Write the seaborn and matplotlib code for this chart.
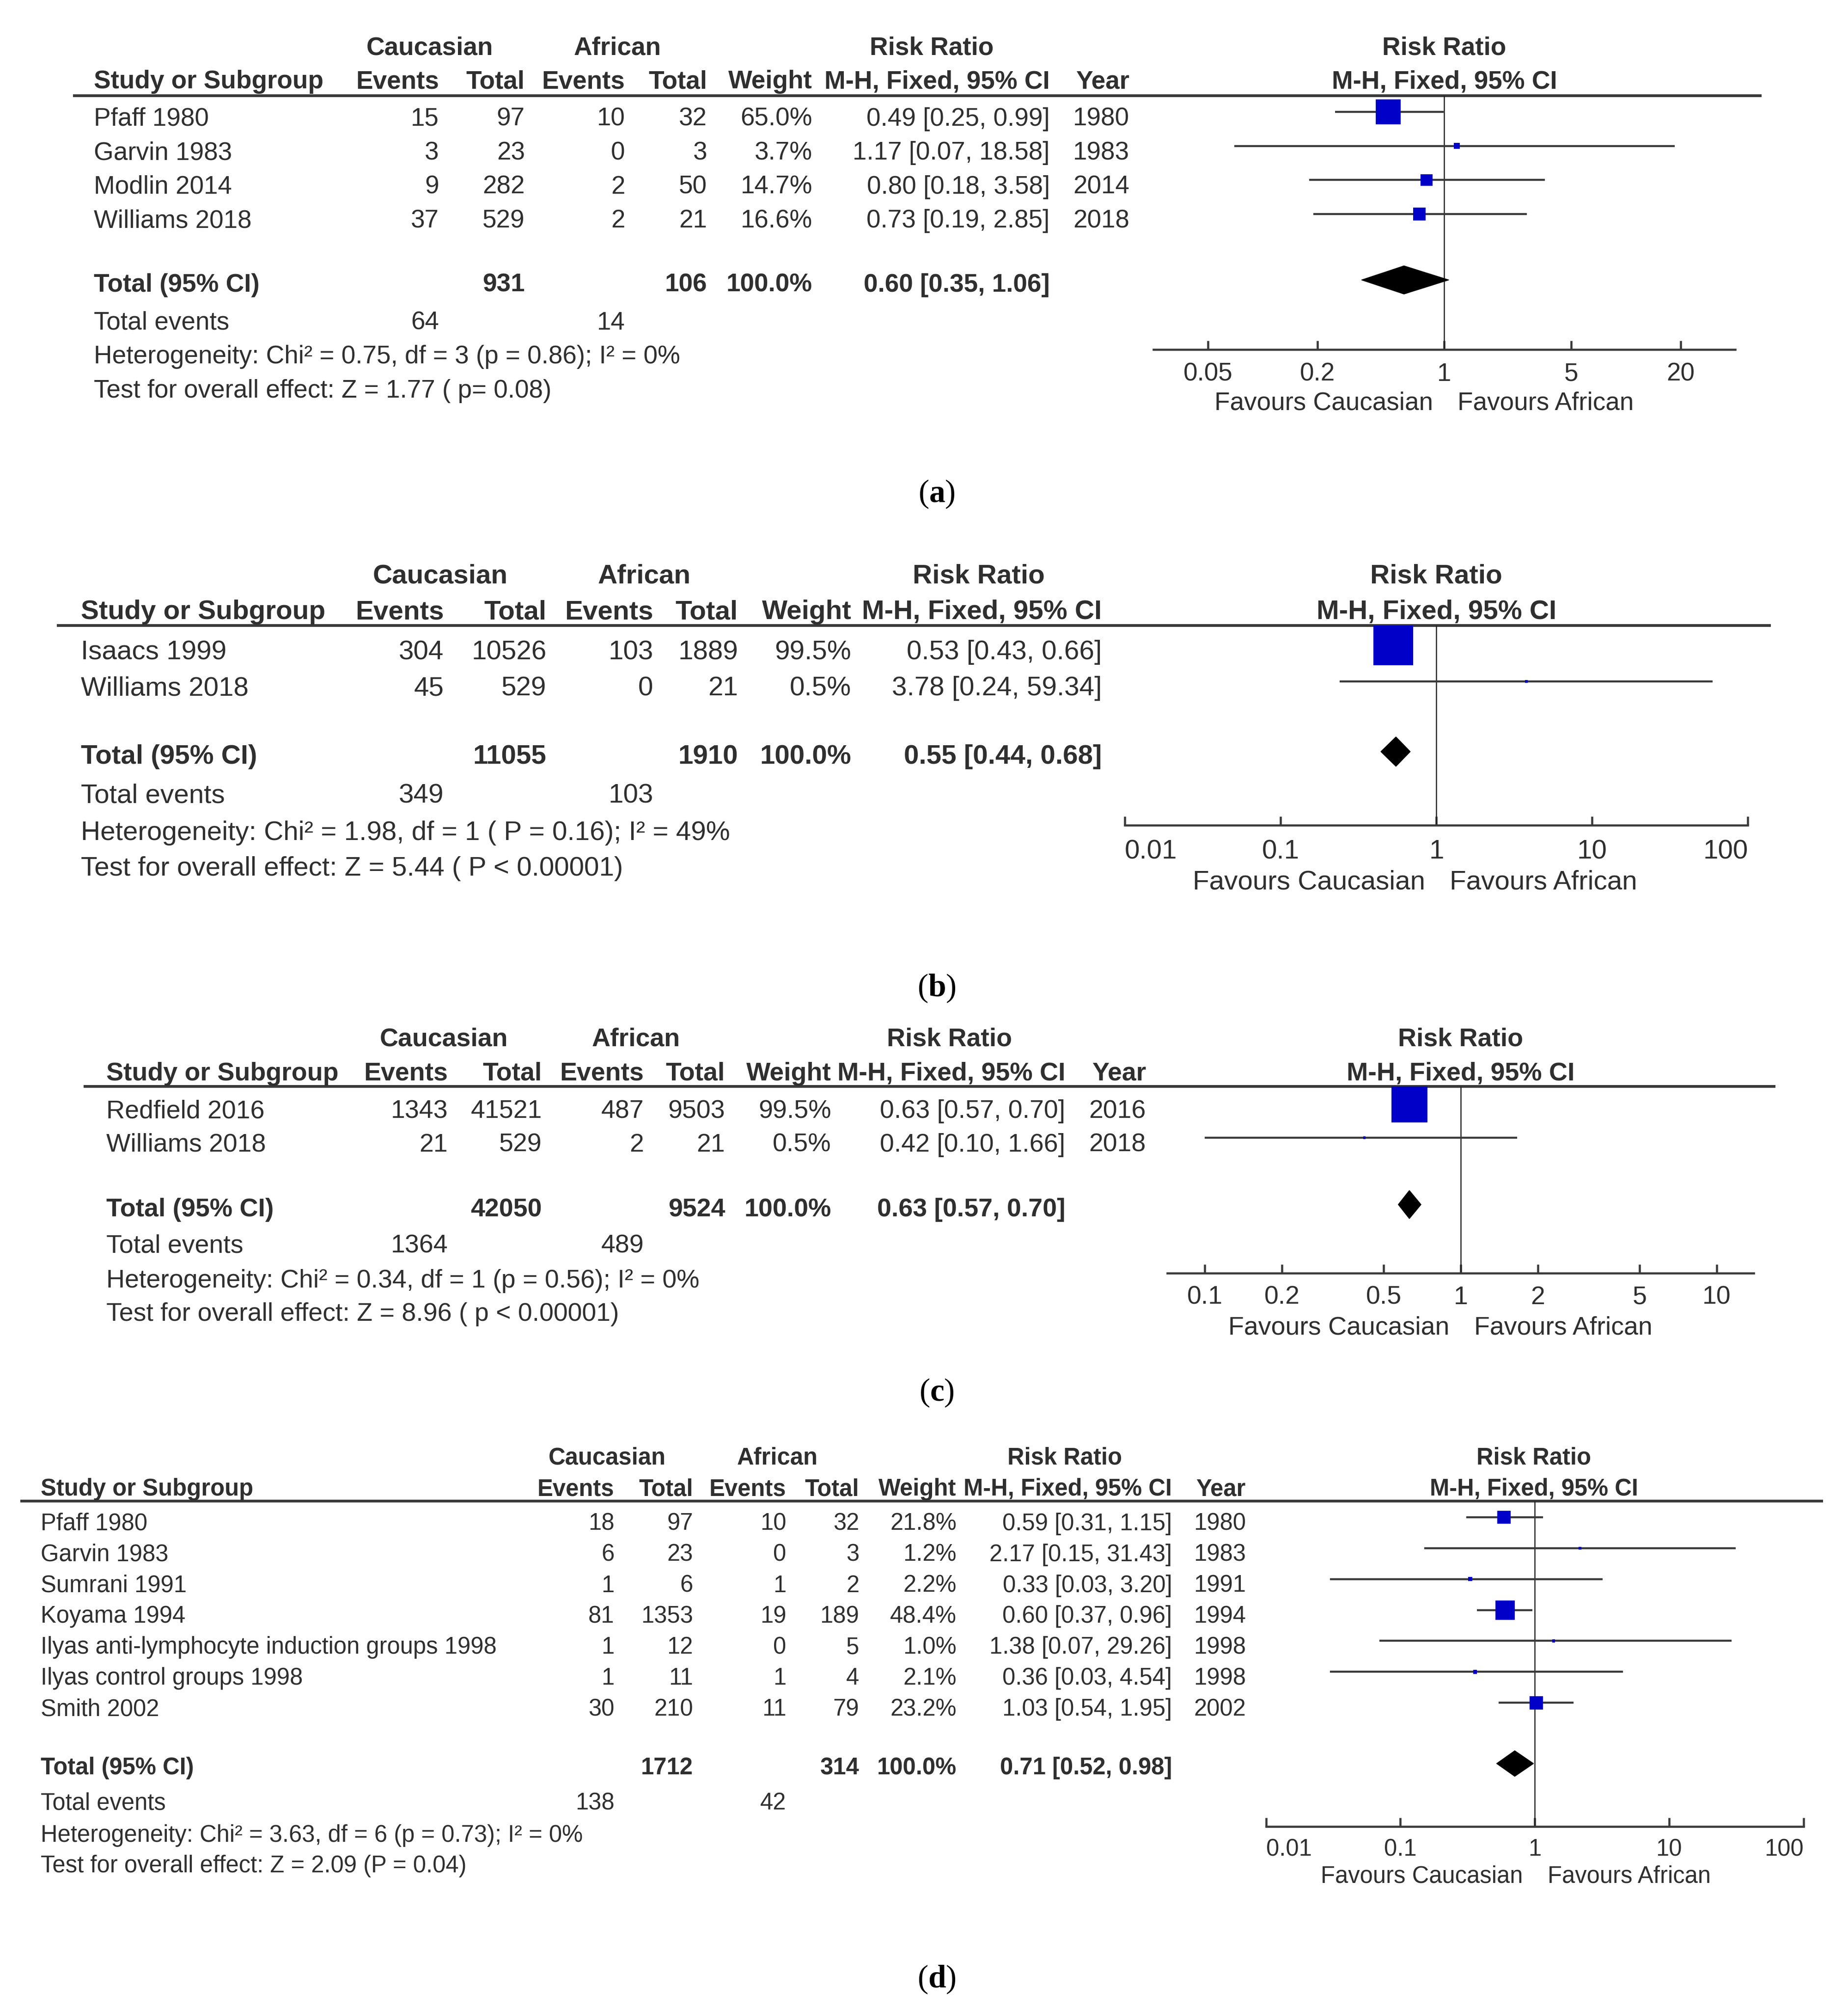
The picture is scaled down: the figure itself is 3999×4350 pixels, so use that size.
import numpy as np
import pandas as pd
import matplotlib
matplotlib.use("Agg")
import matplotlib.pyplot as plt
import seaborn as sns
from matplotlib.ticker import FixedLocator, FixedFormatter, NullLocator

# ---------------- data ----------------
# (a)
a_study = ["Pfaff 1980", "Garvin 1983", "Modlin 2014", "Williams 2018"]
a_cauc_events = [15, 3, 9, 37]
a_cauc_total = [97, 23, 282, 529]
a_afr_events = [10, 0, 2, 2]
a_afr_total = [32, 3, 50, 21]
a_weight = [65.0, 3.7, 14.7, 16.6]
a_rr = [0.49, 1.17, 0.80, 0.73]
a_lo = [0.25, 0.07, 0.18, 0.19]
a_hi = [0.99, 18.58, 3.58, 2.85]
a_year = [1980, 1983, 2014, 2018]
a_total_n = [931, 106]
a_total_rr = [0.60, 0.35, 1.06]
a_total_events = [64, 14]
a_het = "Heterogeneity: Chi² = 0.75, df = 3 (p = 0.86); I² = 0%"
a_test = "Test for overall effect: Z = 1.77 ( p= 0.08)"
a_ticks = [0.05, 0.2, 1, 5, 20]
a_tick_labels = ["0.05", "0.2", "1", "5", "20"]

# (b)
b_study = ["Isaacs 1999", "Williams 2018"]
b_cauc_events = [304, 45]
b_cauc_total = [10526, 529]
b_afr_events = [103, 0]
b_afr_total = [1889, 21]
b_weight = [99.5, 0.5]
b_rr = [0.53, 3.78]
b_lo = [0.43, 0.24]
b_hi = [0.66, 59.34]
b_year = None
b_total_n = [11055, 1910]
b_total_rr = [0.55, 0.44, 0.68]
b_total_events = [349, 103]
b_het = "Heterogeneity: Chi² = 1.98, df = 1 ( P = 0.16); I² = 49%"
b_test = "Test for overall effect: Z = 5.44 ( P < 0.00001)"
b_ticks = [0.01, 0.1, 1, 10, 100]
b_tick_labels = ["0.01", "0.1", "1", "10", "100"]

# (c)
c_study = ["Redfield 2016", "Williams 2018"]
c_cauc_events = [1343, 21]
c_cauc_total = [41521, 529]
c_afr_events = [487, 2]
c_afr_total = [9503, 21]
c_weight = [99.5, 0.5]
c_rr = [0.63, 0.42]
c_lo = [0.57, 0.10]
c_hi = [0.70, 1.66]
c_year = [2016, 2018]
c_total_n = [42050, 9524]
c_total_rr = [0.63, 0.57, 0.70]
c_total_events = [1364, 489]
c_het = "Heterogeneity: Chi² = 0.34, df = 1 (p = 0.56); I² = 0%"
c_test = "Test for overall effect: Z = 8.96 ( p < 0.00001)"
c_ticks = [0.1, 0.2, 0.5, 1, 2, 5, 10]
c_tick_labels = ["0.1", "0.2", "0.5", "1", "2", "5", "10"]

# (d)
d_study = ["Pfaff 1980", "Garvin 1983", "Sumrani 1991", "Koyama 1994",
           "Ilyas anti-lymphocyte induction groups 1998", "Ilyas control groups 1998",
           "Smith 2002"]
d_cauc_events = [18, 6, 1, 81, 1, 1, 30]
d_cauc_total = [97, 23, 6, 1353, 12, 11, 210]
d_afr_events = [10, 0, 1, 19, 0, 1, 11]
d_afr_total = [32, 3, 2, 189, 5, 4, 79]
d_weight = [21.8, 1.2, 2.2, 48.4, 1.0, 2.1, 23.2]
d_rr = [0.59, 2.17, 0.33, 0.60, 1.38, 0.36, 1.03]
d_lo = [0.31, 0.15, 0.03, 0.37, 0.07, 0.03, 0.54]
d_hi = [1.15, 31.43, 3.20, 0.96, 29.26, 4.54, 1.95]
d_year = [1980, 1983, 1991, 1994, 1998, 1998, 2002]
d_total_n = [1712, 314]
d_total_rr = [0.71, 0.52, 0.98]
d_total_events = [138, 42]
d_het = "Heterogeneity: Chi² = 3.63, df = 6 (p = 0.73); I² = 0%"
d_test = "Test for overall effect: Z = 2.09 (P = 0.04)"
d_ticks = [0.01, 0.1, 1, 10, 100]
d_tick_labels = ["0.01", "0.1", "1", "10", "100"]

panel_letters = ["a", "b", "c", "d"]
fav_left = "Favours Caucasian"
fav_right = "Favours African"

# ---------------- layout (units: 1440 x 1566 page grid, 1 unit = 2 pt) ----------------
LAYOUT = {
    "a": dict(fs=39.5, name_x=73, cols=[342, 409, 487, 551, 633, 818], year_r=880,
              grp=[335, 481, 726], y_h1=35.5, y_h2=61.8, line_y=74.5, line_x=(57, 1372.7),
              row0=90.7, pitch=26.5, y_total=220, y_tev=249.5, y_het=276, y_test=302.5,
              axis_y=272.3, xlim=(0.025, 40), fx=(898.7, 1352.1), fc=1125.4, sq_k=6.7,
              dhalf=11, tick_dist=17, fav_y=312, label_y=384.7),
    "b": dict(fs=42, name_x=63, cols=[345.8, 425.8, 509, 575, 663.4, 858.6], year_r=None,
              grp=[343, 502, 762.6], y_h1=446.7, y_h2=474.6, line_y=487, line_x=(44.3, 1380),
              row0=506, pitch=28, y_total=587.3, y_tev=617.8, y_het=646.6, y_test=674.5,
              axis_y=642.6, xlim=(0.01, 100), fx=(876.5, 1362), fc=1119.25, sq_k=8.6,
              dhalf=11.5, tick_dist=18.4, fav_y=685, label_y=769.7),
    "c": dict(fs=40, name_x=82.7, cols=[349, 422.3, 501.7, 565, 647.8, 830.2], year_r=893,
              grp=[346, 495.7, 739.7], y_h1=807.5, y_h2=834, line_y=846, line_x=(65, 1383.6),
              row0=863.5, pitch=26, y_total=940, y_tev=968.3, y_het=995.6, y_test=1021.3,
              axis_y=991.5, xlim=(1 / 14, 14), fx=(909.7, 1366.7), fc=1138.2, sq_k=7.8,
              dhalf=11, tick_dist=16.8, fav_y=1032, label_y=1084.7),
    "d": dict(fs=36.5, name_x=31.6, cols=[478.7, 540, 612.7, 669.5, 745.3, 913.3], year_r=970.8,
              grp=[473, 605.7, 829.6], y_h1=1133.6, y_h2=1158.2, line_y=1168.8, line_x=(15.8, 1420.6),
              row0=1185, pitch=24.08, y_total=1375.3, y_tev=1402.6, y_het=1427.6, y_test=1451.5,
              axis_y=1422.4, xlim=(0.01, 100), fx=(986.5, 1405.3), fc=1195.3, sq_k=6.04,
              dhalf=10, tick_dist=15.6, fav_y=1459.5, label_y=1541.7),
}
W_U, H_U = 1440.0, 1566.0
MARK_DY = -3.5
TEXT = "#2f2f2f"
LINE = "#3a3a3a"
BLUE = "#0000c8"

sns.set_theme(style="white")
plt.rcParams["font.family"] = ["Liberation Sans", "DejaVu Sans"]
plt.rcParams["mathtext.fontset"] = "custom"
plt.rcParams["mathtext.rm"] = "Liberation Serif"
plt.rcParams["mathtext.bf"] = "Liberation Serif:bold"

fig = plt.figure(figsize=(39.99, 43.5), dpi=100)
fig.patch.set_facecolor("white")
bg = fig.add_axes([0, 0, 1, 1])
bg.set_xlim(0, W_U)
bg.set_ylim(H_U, 0)
bg.axis("off")

panels = {
    "a": (a_study, a_cauc_events, a_cauc_total, a_afr_events, a_afr_total, a_weight, a_rr, a_lo, a_hi,
          a_year, a_total_n, a_total_rr, a_total_events, a_het, a_test, a_ticks, a_tick_labels),
    "b": (b_study, b_cauc_events, b_cauc_total, b_afr_events, b_afr_total, b_weight, b_rr, b_lo, b_hi,
          b_year, b_total_n, b_total_rr, b_total_events, b_het, b_test, b_ticks, b_tick_labels),
    "c": (c_study, c_cauc_events, c_cauc_total, c_afr_events, c_afr_total, c_weight, c_rr, c_lo, c_hi,
          c_year, c_total_n, c_total_rr, c_total_events, c_het, c_test, c_ticks, c_tick_labels),
    "d": (d_study, d_cauc_events, d_cauc_total, d_afr_events, d_afr_total, d_weight, d_rr, d_lo, d_hi,
          d_year, d_total_n, d_total_rr, d_total_events, d_het, d_test, d_ticks, d_tick_labels),
}


def put(x, yc, s, fs, ha="left", bold=False, color=TEXT):
    em = fs / 2.0
    bg.text(x, yc + 0.358 * em, s, ha=ha, va="baseline", fontsize=fs,
            fontweight="bold" if bold else "normal", color=color)


def fmt_ci(r, l, h):
    return f"{r:.2f} [{l:.2f}, {h:.2f}]"


for key in panel_letters:
    (study, ce, ct, ae, at, wt, rr, lo, hi, year, tot_n, tot_rr, tot_ev, het, test,
     ticks, tick_labels) = panels[key]
    L = LAYOUT[key]
    fs = L["fs"]
    cols = L["cols"]
    n = len(study)
    rows_y = [L["row0"] + i * L["pitch"] for i in range(n)]

    # headers
    put(L["grp"][0], L["y_h1"], "Caucasian", fs, ha="center", bold=True)
    put(L["grp"][1], L["y_h1"], "African", fs, ha="center", bold=True)
    put(L["grp"][2], L["y_h1"], "Risk Ratio", fs, ha="center", bold=True)
    put(L["fc"], L["y_h1"], "Risk Ratio", fs, ha="center", bold=True)
    put(L["name_x"], L["y_h2"], "Study or Subgroup", fs, bold=True)
    for cx, lab in zip(cols, ["Events", "Total", "Events", "Total", "Weight", "M-H, Fixed, 95% CI"]):
        put(cx, L["y_h2"], lab, fs, ha="right", bold=True)
    if L["year_r"] is not None:
        put(L["year_r"], L["y_h2"], "Year", fs, ha="right", bold=True)
    put(L["fc"], L["y_h2"], "M-H, Fixed, 95% CI", fs, ha="center", bold=True)
    bg.plot(L["line_x"], [L["line_y"], L["line_y"]], color=LINE, lw=4.3, solid_capstyle="butt")

    # study rows
    for i in range(n):
        y = rows_y[i]
        put(L["name_x"], y, study[i], fs)
        vals = [str(ce[i]), str(ct[i]), str(ae[i]), str(at[i]), f"{wt[i]:.1f}%",
                fmt_ci(rr[i], lo[i], hi[i])]
        for cx, v in zip(cols, vals):
            put(cx, y, v, fs, ha="right")
        if year is not None and L["year_r"] is not None:
            put(L["year_r"], y, str(year[i]), fs, ha="right")

    # totals
    put(L["name_x"], L["y_total"], "Total (95% CI)", fs, bold=True)
    put(cols[1], L["y_total"], str(tot_n[0]), fs, ha="right", bold=True)
    put(cols[3], L["y_total"], str(tot_n[1]), fs, ha="right", bold=True)
    put(cols[4], L["y_total"], "100.0%", fs, ha="right", bold=True)
    put(cols[5], L["y_total"], fmt_ci(*tot_rr), fs, ha="right", bold=True)
    put(L["name_x"], L["y_tev"], "Total events", fs)
    put(cols[0], L["y_tev"], str(tot_ev[0]), fs, ha="right")
    put(cols[2], L["y_tev"], str(tot_ev[1]), fs, ha="right")
    put(L["name_x"], L["y_het"], het, fs)
    put(L["name_x"], L["y_test"], test, fs)

    # forest axes
    x0, x1 = L["fx"]
    ax = fig.add_axes([x0 / W_U, 1 - L["axis_y"] / H_U, (x1 - x0) / W_U,
                       (L["axis_y"] - L["line_y"]) / H_U])
    ax.set_facecolor("none")
    ax.set_xscale("log")
    df = pd.DataFrame({"rr": rr, "lo": lo, "hi": hi, "w": wt,
                       "y": [r + MARK_DY for r in rows_y]})
    ax.hlines(df["y"], df["lo"], df["hi"], color=LINE, lw=3.2, zorder=2)
    c = (L["sq_k"] * 0.72) ** 2
    sns.scatterplot(data=df, x="rr", y="y", size="w",
                    sizes=(c * df["w"].min(), c * df["w"].max()),
                    marker="s", color=BLUE, edgecolor="none", linewidth=0,
                    legend=False, ax=ax, zorder=3, clip_on=False)
    yt = L["y_total"] + MARK_DY + 1.5
    h = L["dhalf"]
    ax.fill([tot_rr[1], tot_rr[0], tot_rr[2], tot_rr[0]], [yt, yt - h, yt, yt + h],
            color="black", zorder=4, clip_on=False)
    ax.axvline(1, color="#222222", lw=1.8, zorder=1)
    ax.set_xlim(*L["xlim"])
    ax.set_ylim(L["axis_y"], L["line_y"])
    ax.set_xlabel("")
    ax.set_ylabel("")
    for sp in ["top", "left", "right"]:
        ax.spines[sp].set_visible(False)
    ax.spines["bottom"].set_color(LINE)
    ax.spines["bottom"].set_linewidth(3.3)
    ax.xaxis.set_major_locator(FixedLocator(ticks))
    ax.xaxis.set_major_formatter(FixedFormatter(tick_labels))
    ax.xaxis.set_minor_locator(NullLocator())
    ax.set_yticks([])
    pad = (L["tick_dist"] - 0.358 * fs / 2.0) * 2.0
    ax.tick_params(axis="x", direction="in", length=14, width=3.3, color=LINE,
                   labelsize=fs, labelcolor=TEXT, pad=pad, bottom=True)
    for tk, tv in zip(ax.xaxis.get_major_ticks(), ticks):
        if np.isclose(tv, L["xlim"][0]):
            tk.label1.set_horizontalalignment("left")
        elif np.isclose(tv, L["xlim"][1]):
            tk.label1.set_horizontalalignment("right")

    put(L["fc"] - 8.7, L["fav_y"], fav_left, fs, ha="right")
    put(L["fc"] + 10.5, L["fav_y"], fav_right, fs, ha="left")

    # panel label
    bg.text(730, L["label_y"], r"$(\mathbf{" + key + r"})$", ha="center", va="center",
            fontsize=50, color="black")

fig.savefig("out.png", dpi=100, facecolor="white")
